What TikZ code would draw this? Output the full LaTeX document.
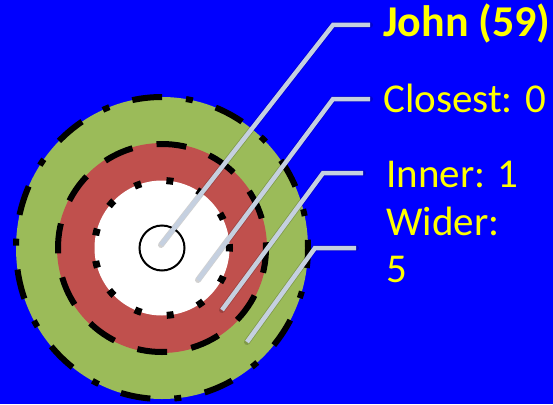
\documentclass[tikz,border=0pt]{standalone}
\usepackage{fontspec}
\setmainfont{Carlito}
\definecolor{bgblue}{RGB}{0,0,255}
\definecolor{ogreen}{RGB}{155,187,89}
\definecolor{ored}{RGB}{192,80,77}
\definecolor{leader}{RGB}{197,208,224}
\definecolor{txtyellow}{RGB}{255,255,0}
\tikzset{
  leaderline/.style={draw=leader, line width=4.5pt, line cap=butt, line join=miter},
  leadershadow/.style={draw=black, opacity=0.18, line width=6pt, line cap=round, line join=round, shift={(1.5pt,-1.5pt)}},
  lbl/.style={anchor=base west, inner sep=0pt, text=txtyellow, font=\fontsize{41}{48}\selectfont},
}
\begin{document}
\begin{tikzpicture}[x=1pt,y=-1pt]
\fill[bgblue] (0,0) rectangle (553,404);
\useasboundingbox (0,0) rectangle (553,404);
\coordinate (c) at (162,248);
% rings
\fill[ogreen] (c) ellipse [x radius=146, y radius=151];
\draw[black, line width=6pt, dash pattern=on 30pt off 24pt on 7pt off 24pt, dash phase=10pt] (c) ellipse [x radius=146, y radius=151];
\fill[ored] (c) circle [radius=105];
\draw[black, line width=6pt, dash pattern=on 30pt off 24.4pt, dash phase=5pt] (c) circle [radius=104];
\fill[white] (c) circle [radius=67.5];
\draw[black, line width=7pt, dash pattern=on 7pt off 25.6pt, dash phase=3.5pt] (c) circle [radius=67.5];
\node[draw=black, line width=2pt, circle, minimum size=45pt, inner sep=0pt] (core) at (c) {};
% labels
\node[lbl, font=\fontsize{44}{48}\selectfont\bfseries] (john) at (383,37) {John (59)};
\node[lbl] (closest) at (383,112) {Closest: 0};
\node[lbl] (inner) at (386,187) {Inner: 1};
\node[lbl] (wider) at (386,235) {Wider:};
\node[lbl] (five) at (386,282) {5};
% leader lines
\coordinate (s1) at (161,245); \coordinate (k1) at (333,25); \coordinate (e1) at (370,25);
\coordinate (s2) at (198,280); \coordinate (k2) at (333,99); \coordinate (e2) at (370,99);
\coordinate (s3) at (222,310); \coordinate (k3) at (323,173); \coordinate (e3) at (363,173);
\coordinate (s4) at (247,342); \coordinate (k4) at (315,248); \coordinate (e4) at (356,248);
\foreach \i in {1,2,3,4}{
  \draw[leadershadow] (s\i) -- (k\i) -- (e\i);
}
\foreach \i in {1,2,3,4}{
  \draw[leaderline] (s\i) -- (k\i) -- (e\i);
}
\end{tikzpicture}
\end{document}
